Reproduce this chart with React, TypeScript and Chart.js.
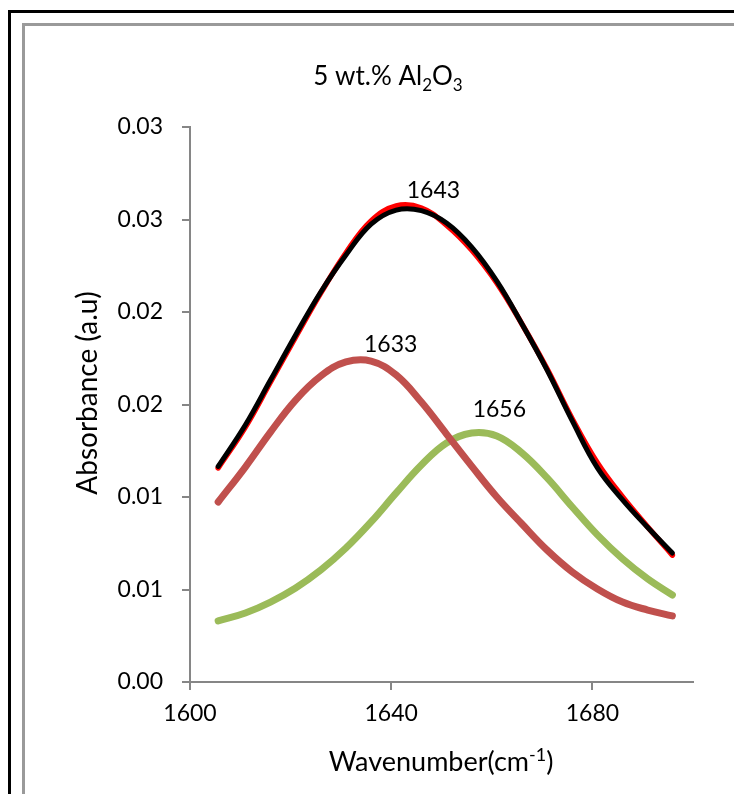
import React, { useEffect, useRef } from 'react';
import { Chart, registerables } from 'chart.js';

Chart.register(...registerables);

// ---- data ----
const wavenumbers = [1605.6, 1611, 1616, 1621, 1626, 1631, 1636, 1641, 1646, 1651, 1656, 1661, 1666, 1671, 1676, 1681, 1686, 1691, 1695.9];
const rawSpectrum = [0.01157, 0.01378, 0.01622, 0.01865, 0.02103, 0.02319, 0.02492, 0.02573, 0.02562, 0.0247, 0.02335, 0.02157, 0.01935, 0.01692, 0.01422, 0.01184, 0.01, 0.00838, 0.00686];
const fitTotal = [0.01165, 0.01389, 0.01632, 0.01876, 0.02108, 0.02308, 0.02475, 0.02551, 0.02548, 0.02481, 0.02351, 0.02167, 0.01935, 0.01686, 0.01411, 0.01157, 0.00984, 0.00835, 0.00697];
const peak1633 = [0.00973, 0.01162, 0.01351, 0.01524, 0.01654, 0.0173, 0.01735, 0.01659, 0.01513, 0.0134, 0.01167, 0.01, 0.00854, 0.00713, 0.00595, 0.00503, 0.00432, 0.00389, 0.00357];
const peak1656 = [0.0033, 0.00373, 0.00432, 0.00508, 0.00605, 0.00724, 0.00865, 0.01022, 0.01173, 0.01292, 0.01346, 0.0133, 0.01238, 0.01103, 0.00946, 0.00795, 0.00665, 0.00557, 0.0047];

const yTickLabels = ['0.00', '0.01', '0.01', '0.02', '0.02', '0.03', '0.03'];
const xTickLabels = ['1600', '1640', '1680'];

const peakLabels = ['1643', '1633', '1656'];
const peakLabelX = [1648.4, 1639.9, 1661.5];
const peakLabelY = [0.02654, 0.01822, 0.0147];

const FONT = 'Lato, "Open Sans", sans-serif';

type Part = [string, 'n' | 'sub' | 'sup'];

function drawRich(ctx: CanvasRenderingContext2D, parts: Part[], cx: number, baseline: number, size: number) {
  const small = Math.round(size * 0.65);
  let total = 0;
  const widths = parts.map(([t, k]) => {
    ctx.font = `${k === 'n' ? size : small}px ${FONT}`;
    const w = ctx.measureText(t).width;
    total += w;
    return w;
  });
  let x = cx - total / 2;
  ctx.textAlign = 'left';
  ctx.textBaseline = 'alphabetic';
  parts.forEach(([t, k], i) => {
    ctx.font = `${k === 'n' ? size : small}px ${FONT}`;
    const dy = k === 'sub' ? size * 0.22 : k === 'sup' ? -size * 0.38 : 0;
    ctx.fillText(t, x, baseline + dy);
    x += widths[i];
  });
}

const textPlugin = {
  id: 'refTexts',
  afterDatasetsDraw(chart: any) {
    const ctx: CanvasRenderingContext2D = chart.ctx;
    const xs = chart.scales.x;
    const ys = chart.scales.y;
    ctx.save();
    ctx.fillStyle = '#000';
    // peak labels
    ctx.font = `23px ${FONT}`;
    ctx.textAlign = 'center';
    ctx.textBaseline = 'middle';
    peakLabels.forEach((t, i) => {
      ctx.fillText(t, xs.getPixelForValue(peakLabelX[i]), ys.getPixelForValue(peakLabelY[i]));
    });
    // chart title
    drawRich(ctx, [['5 wt.% Al', 'n'], ['2', 'sub'], ['O', 'n'], ['3', 'sub']], 388, 85, 26);
    // x axis title
    drawRich(ctx, [['Wavenumber(cm', 'n'], ['-1', 'sup'], [')', 'n']], 441, 771, 27);
    // y axis title
    ctx.save();
    ctx.translate(88, 393);
    ctx.rotate(-Math.PI / 2);
    ctx.font = `28px ${FONT}`;
    ctx.textAlign = 'center';
    ctx.textBaseline = 'middle';
    ctx.fillText('Absorbance (a.u)', 0, 0);
    ctx.restore();
    ctx.restore();
  },
};

function series(values: number[]) {
  return values.map((v, i) => ({ x: wavenumbers[i], y: v }));
}

export default function App() {
  const ref = useRef<HTMLCanvasElement>(null);

  useEffect(() => {
    const axisColor = '#868686';
    const line = (label: string, values: number[], color: string, width: number) => ({
      label,
      data: series(values),
      borderColor: color,
      backgroundColor: color,
      borderWidth: width,
      pointRadius: 0,
      pointHoverRadius: 0,
      tension: 0.4,
      fill: false,
      borderCapStyle: 'round' as const,
      borderJoinStyle: 'round' as const,
    });
    const chart = new Chart(ref.current!, {
      type: 'line',
      data: {
        datasets: [
          line('Fit', fitTotal, '#000000', 5),
          line('Spectrum', rawSpectrum, '#FF0000', 5.5),
          line('1633', peak1633, '#C0504D', 7),
          line('1656', peak1656, '#9BBB59', 7),
        ],
      },
      options: {
        responsive: false,
        animation: false,
        events: [],
        layout: { padding: { left: 0, top: 127, right: 41, bottom: 0 } },
        plugins: {
          legend: { display: false },
          title: { display: false },
          tooltip: { enabled: false },
        },
        scales: {
          x: {
            type: 'linear',
            min: 1600,
            max: 1700,
            afterFit: (s: any) => { s.height = 794 - 682; },
            ticks: {
              stepSize: 40,
              includeBounds: false,
              autoSkip: false,
              maxRotation: 0,
              padding: 10,
              color: '#000',
              font: { family: FONT, size: 23 },
              callback: (v: any) => {
                const i = [1600, 1640, 1680].indexOf(Number(v));
                return i >= 0 ? xTickLabels[i] : '';
              },
            },
            grid: { drawOnChartArea: false, drawTicks: true, tickLength: 8, color: axisColor, lineWidth: 2 },
            border: { display: true, color: axisColor, width: 2 },
          },
          y: {
            type: 'linear',
            min: 0,
            max: 0.03,
            afterFit: (s: any) => { s.width = 190; },
            ticks: {
              stepSize: 0.005,
              padding: 19,
              color: '#000',
              font: { family: FONT, size: 23 },
              callback: (_v: any, i: number) => yTickLabels[i],
            },
            grid: { drawOnChartArea: false, drawTicks: true, tickLength: 8, color: axisColor, lineWidth: 2 },
            border: { display: true, color: axisColor, width: 2 },
          },
        },
      },
      plugins: [textPlugin],
    } as any);
    return () => chart.destroy();
  }, []);

  return (
    <div style={{ position: 'fixed', left: 0, top: 0, width: 734, height: 794, overflow: 'hidden', background: '#fff' }}>
      <div style={{ position: 'absolute', left: 8, top: 10, width: 900, height: 900, borderLeft: '3px solid #000', borderTop: '3px solid #000' }} />
      <div style={{ position: 'absolute', left: 22, top: 23, width: 900, height: 900, borderLeft: '3px solid #9a9a9a', borderTop: '3px solid #9a9a9a' }} />
      <canvas ref={ref} width={734} height={794} style={{ position: 'absolute', left: 0, top: 0, width: 734, height: 794 }} />
    </div>
  );
}
